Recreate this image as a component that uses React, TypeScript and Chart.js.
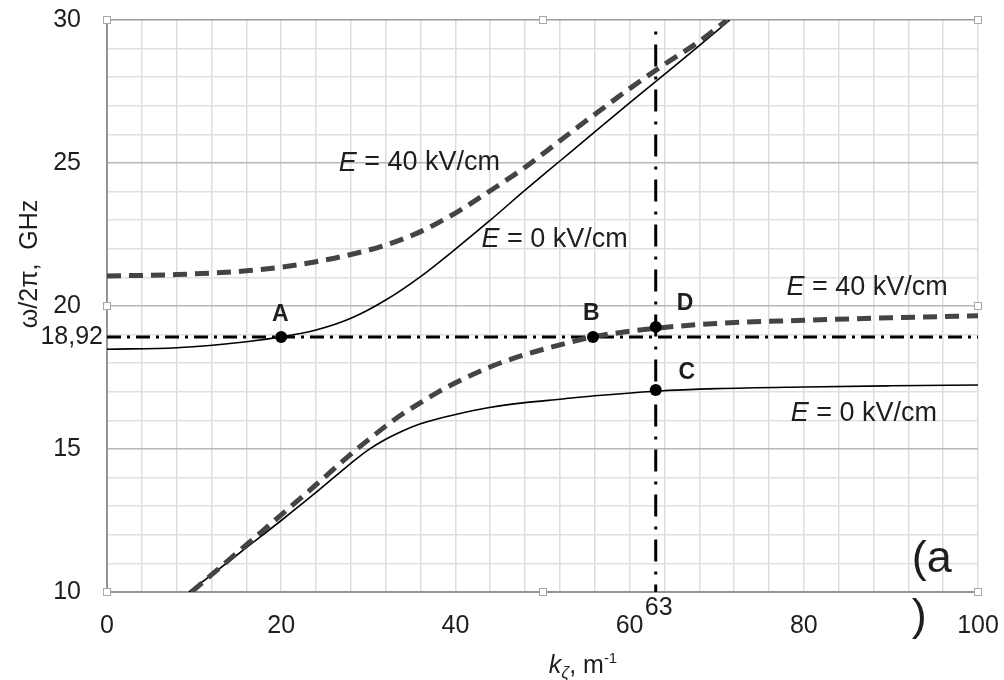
import React, { useEffect, useRef } from 'react';
import { Chart, registerables } from 'chart.js';
Chart.register(...registerables);

// ---- data ----
const kUpper0 = [0, 8, 16, 20, 24, 28, 32, 36, 40, 44, 48, 52, 56, 60, 64, 68, 71.5];
const wUpper0 = [18.49, 18.54, 18.75, 18.92, 19.16, 19.57, 20.21, 21.03, 21.99, 23.0, 24.05, 25.07, 26.09, 27.1, 28.1, 29.1, 30];

const kLower0 = [9.4, 12, 16, 20, 24, 28, 30, 32, 34, 36, 38, 39.9, 43.9, 48, 52, 56, 63, 70, 80, 90, 100];
const wLower0 = [10, 10.6, 11.55, 12.5, 13.48, 14.5, 14.97, 15.34, 15.64, 15.88, 16.06, 16.2, 16.45, 16.62, 16.74, 16.86, 17.02, 17.11, 17.17, 17.21, 17.24];

const kUpper40 = [0, 8, 16, 20, 24, 28, 32, 36, 40, 44, 48, 52, 56, 60, 64, 68, 71.2];
const wUpper40 = [21.05, 21.1, 21.23, 21.36, 21.55, 21.8, 22.13, 22.6, 23.25, 24.03, 24.85, 25.78, 26.7, 27.6, 28.45, 29.25, 30];

const kLower40 = [9.7, 13.9, 17.8, 20, 24, 28, 30, 32, 34, 36, 38, 39.9, 43.9, 48, 52, 55.8, 63, 70, 80, 90, 100];
const wLower40 = [10, 11.1, 12.12, 12.7, 13.75, 14.82, 15.32, 15.8, 16.24, 16.62, 16.99, 17.3, 17.86, 18.3, 18.64, 18.92, 19.22, 19.39, 19.5, 19.59, 19.66];

const markNames = ['A', 'B', 'C', 'D'];
const markK = [20, 55.8, 63, 63];
const markW = [18.92, 18.92, 17.06, 19.27];

const refW = 18.92;
const refK = 63;
const refLabelW = '18,92';
const refLabelK = '63';

const xTicks = [0, 20, 40, 60, 80, 100];
const yTicks = [10, 15, 20, 25, 30];

const curveLabels = ['E = 40 kV/cm', 'E = 0 kV/cm', 'E = 40 kV/cm', 'E = 0 kV/cm'];
const curveLabelK = [26.6, 43, 78.0, 78.5];
const curveLabelW = [25.0, 22.31, 20.65, 16.25];

const FONT = "'Liberation Sans', Arial, sans-serif";

const toXY = (ks: number[], ws: number[]) => ks.map((k, i) => ({ x: k, y: ws[i] }));

export default function App() {
  const ref = useRef<HTMLCanvasElement>(null);
  useEffect(() => {
    document.body.style.margin = '0';
    const canvas = ref.current!;
    const overlay = {
      id: 'overlay',
      afterDraw(chart: any) {
        const c = chart.ctx;
        const xs = chart.scales.x;
        const ys = chart.scales.y;
        const a = chart.chartArea;
        c.save();
        c.fillStyle = '#1e1e1e';
        // extra tick labels
        c.font = `25px ${FONT}`;
        c.textAlign = 'right';
        c.textBaseline = 'middle';
        c.fillText(refLabelW, a.left - 4, ys.getPixelForValue(refW));
        c.textAlign = 'center';
        c.textBaseline = 'top';
        c.fillText(refLabelK, xs.getPixelForValue(refK) + 3, a.bottom + 4);
        // curve labels
        c.textBaseline = 'middle';
        curveLabels.forEach((t, i) => {
          const x0 = xs.getPixelForValue(curveLabelK[i]);
          const y0 = ys.getPixelForValue(curveLabelW[i]);
          c.textAlign = 'left';
          c.font = `italic 27px ${FONT}`;
          c.fillText('E', x0, y0);
          const w = c.measureText('E').width;
          c.font = `27px ${FONT}`;
          c.fillText(t.slice(1), x0 + w, y0);
        });
        // point labels
        c.font = `bold 23px ${FONT}`;
        const lblOff = [[-0.1, 0.78], [-0.2, 0.82], [2.6, 0.62], [2.4, 0.82]];
        markNames.forEach((n, i) => {
          const x0 = xs.getPixelForValue(markK[i] + lblOff[i][0]);
          const y0 = ys.getPixelForValue(markW[i] + lblOff[i][1]);
          c.textAlign = i >= 2 ? 'left' : 'center';
          c.fillText(n, x0, y0);
        });
        // panel tag
        c.font = `45px ${FONT}`;
        c.textAlign = 'left';
        c.fillText('(a', xs.getPixelForValue(92.4), ys.getPixelForValue(11.15));
        c.fillText(')', xs.getPixelForValue(92.4), ys.getPixelForValue(9.09));
        // x title
        const parts = [
          { t: 'k', f: `italic 25px ${FONT}`, dy: 0 },
          { t: 'ζ', f: `italic 17px ${FONT}`, dy: 5 },
          { t: ', m', f: `25px ${FONT}`, dy: 0 },
          { t: '-1', f: `15px ${FONT}`, dy: -10 },
        ];
        let total = 0;
        parts.forEach((p) => { c.font = p.f; total += c.measureText(p.t).width; });
        let px = 583 - total / 2;
        const base = 673;
        c.textAlign = 'left';
        c.textBaseline = 'alphabetic';
        parts.forEach((p) => { c.font = p.f; c.fillText(p.t, px, base + p.dy); px += c.measureText(p.t).width; });
        // y title
        c.translate(30, 264);
        c.rotate(-Math.PI / 2);
        c.font = `25px ${FONT}`;
        c.textAlign = 'center';
        c.textBaseline = 'middle';
        c.fillText('ω/2π,  GHz', 0, 0);
        c.restore();
        // selection handles
        c.save();
        const mx = (a.left + a.right) / 2;
        const my = (a.top + a.bottom) / 2;
        const hs = [[a.left, a.top], [mx, a.top], [a.right, a.top], [a.left, my], [a.right, my], [a.left, a.bottom], [mx, a.bottom], [a.right, a.bottom]];
        c.fillStyle = '#ffffff';
        c.strokeStyle = '#a8a8a8';
        c.lineWidth = 1;
        hs.forEach(([hx, hy]) => {
          c.fillRect(Math.round(hx) - 3, Math.round(hy) - 3, 6, 6);
          c.strokeRect(Math.round(hx) - 3.5, Math.round(hy) - 3.5, 7, 7);
        });
        c.restore();
      },
    };

    const chart = new Chart(canvas, {
      type: 'scatter',
      data: {
        datasets: [
          {
            data: toXY(markK, markW), showLine: false, pointRadius: 6, pointBackgroundColor: '#000',
            pointBorderColor: '#000', pointBorderWidth: 0, order: 0,
          },
          {
            data: toXY(kUpper0, wUpper0), showLine: true, borderColor: '#000', borderWidth: 1.6,
            pointRadius: 0, cubicInterpolationMode: 'monotone', order: 2,
          },
          {
            data: toXY(kLower0, wLower0), showLine: true, borderColor: '#000', borderWidth: 1.6,
            pointRadius: 0, cubicInterpolationMode: 'monotone', order: 2,
          },
          {
            data: toXY(kUpper40, wUpper40), showLine: true, borderColor: '#444', borderWidth: 5,
            borderDash: [14, 8], pointRadius: 0, cubicInterpolationMode: 'monotone', order: 1,
          },
          {
            data: toXY(kLower40, wLower40), showLine: true, borderColor: '#444', borderWidth: 5,
            borderDash: [14, 8], pointRadius: 0, cubicInterpolationMode: 'monotone', order: 1,
          },
          {
            data: [{ x: 0, y: refW }, { x: 100, y: refW }], showLine: true, borderColor: '#000',
            borderWidth: 3, borderDash: [14, 6, 3, 6], pointRadius: 0, order: 3,
          },
          {
            data: [{ x: refK, y: 29.6 }, { x: refK, y: 10 }], showLine: true, borderColor: '#000',
            borderWidth: 3, borderDash: [3, 10, 22, 10], pointRadius: 0, order: 3,
          },
        ],
      },
      options: {
        animation: false,
        responsive: false,
        devicePixelRatio: 1,
        layout: { padding: { top: 20, right: 26, left: 0, bottom: 0 } },
        plugins: { legend: { display: false }, tooltip: { enabled: false } },
        scales: {
          x: {
            type: 'linear', min: 0, max: 100,
            afterFit: (s: any) => { s.height = 88; s.paddingLeft = 0; s.paddingRight = 0; s.paddingTop = 0; s.paddingBottom = 0; },
            ticks: {
              stepSize: 4, autoSkip: false, maxRotation: 0, padding: 19,
              font: { family: FONT, size: 25 }, color: '#1e1e1e',
              callback: (v: any) => (xTicks.includes(Number(v)) ? String(v) : ''),
            },
            grid: { color: '#dddddd', lineWidth: 1.5, drawTicks: false },
            border: { display: true, color: '#959595', width: 2 },
          },
          y: {
            type: 'linear', min: 10, max: 30,
            afterFit: (s: any) => { s.width = 107; s.paddingLeft = 0; s.paddingRight = 0; s.paddingTop = 0; s.paddingBottom = 0; },
            ticks: {
              stepSize: 1, autoSkip: false, padding: 26,
              font: { family: FONT, size: 25 }, color: '#1e1e1e',
              callback: (v: any) => (yTicks.includes(Number(v)) ? String(v) : ''),
            },
            grid: {
              drawTicks: false, lineWidth: 1.5,
              color: (ctx: any) => (ctx.tick && ctx.tick.value === 30 ? '#9a9a9a' : ctx.tick && ctx.tick.value % 5 === 0 ? '#b8b8b8' : '#e0e0e0'),
            },
            border: { display: true, color: '#959595', width: 2 },
          },
        },
      },
      plugins: [overlay],
    } as any);
    return () => chart.destroy();
  }, []);
  return (
    <div style={{ width: 1004, height: 680, position: 'relative', background: '#fff' }}>
      <canvas ref={ref} width={1004} height={680} style={{ display: 'block' }} />
    </div>
  );
}
